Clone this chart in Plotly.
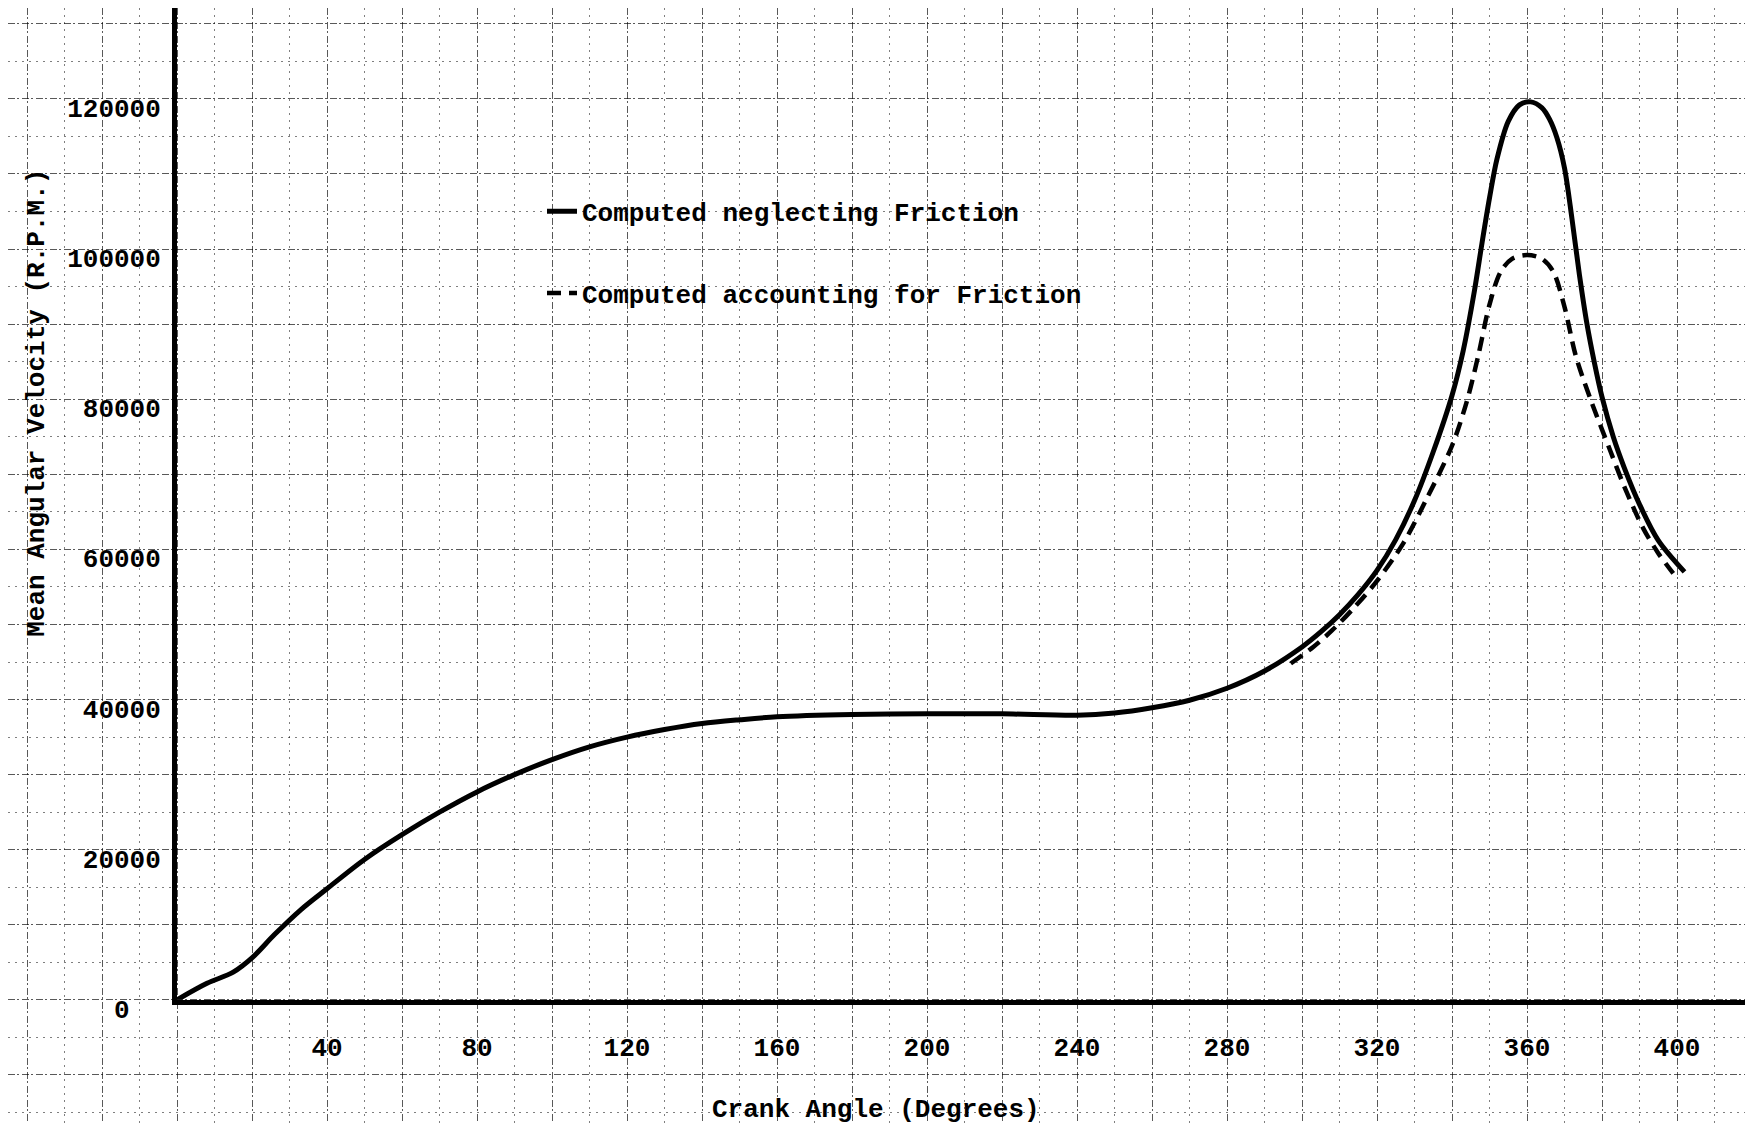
import plotly.graph_objects as go

# ---------------- data ----------------
angle_solid = [0, 8, 15, 20, 26, 33, 40, 50, 60, 70, 80, 90, 100, 110, 120, 130, 140, 150,
               160, 180, 200, 220, 240, 250, 260, 270, 280, 290, 300, 305, 310, 315, 320,
               325, 330, 335, 340, 343, 346, 348, 350, 352, 355, 358, 361, 364, 366, 368,
               370, 372, 374, 376, 378, 380, 383, 386, 390, 395, 402]
rpm_solid = [0, 2200, 3700, 5600, 8700, 12000, 14800, 18700, 22000, 25000, 27700, 30000,
             32000, 33700, 35000, 36000, 36800, 37300, 37700, 38000, 38100, 38100, 37900,
             38200, 38900, 39900, 41500, 43800, 47000, 49000, 51300, 54000, 57200, 61300,
             66500, 73000, 80500, 86500, 94500, 100800, 106800, 112000, 117000, 119200,
             119600, 118800, 117300, 114800, 110800, 104000, 96500, 90000, 84800, 80300,
             75000, 70800, 66000, 61200, 57000]

angle_dashed = [297, 303, 308, 314, 320, 327, 333, 340, 344, 347, 350, 353, 356, 360, 364,
                367, 370, 373, 377, 382, 386, 391, 395, 399]
rpm_dashed = [44800, 47000, 49200, 52300, 55800, 60800, 66500, 73800, 79800, 85800, 92600,
              97000, 98700, 99200, 98700, 97000, 92300, 85800, 79900, 73400, 68300, 62800,
              59500, 56800]

x_ticks = [40, 80, 120, 160, 200, 240, 280, 320, 360, 400]
y_ticks = [0, 20000, 40000, 60000, 80000, 100000, 120000]
y_tick_text = ["0\u00a0\u00a0", "20000", "40000", "60000", "80000", "100000", "120000"]

name_solid = "Computed neglecting Friction"
name_dashed = "Computed accounting for Friction"
x_title = "Crank Angle (Degrees)"
y_title = "Mean Angular Velocity (R.P.M.)"

# ---------------- layout geometry ----------------
W, H = 1753, 1141
X0PX, Y0PX = 169, 1015          # pixel position of the origin
PX_PER_DEG = 3.75
PX_PER_UNIT = 922 / 120000

x_max = (W - X0PX) / PX_PER_DEG
y_max = Y0PX / PX_PER_UNIT
x_min_grid = -X0PX / PX_PER_DEG
y_min_grid = -(H - Y0PX) / PX_PER_UNIT

FONT = "Liberation Mono"
font_main = dict(family=FONT, size=26, color="black", weight="bold")

fig = go.Figure()

# graph-paper subplot (grid only)
fig.add_trace(go.Scatter(x=[None], y=[None], xaxis="x", yaxis="y",
                         showlegend=False, hoverinfo="skip"))

# data curves
fig.add_trace(go.Scatter(
    x=angle_solid, y=rpm_solid, xaxis="x2", yaxis="y2", mode="lines",
    name=name_solid, legendgroup="a",
    line=dict(color="black", width=5, shape="spline", smoothing=0.9)))
fig.add_trace(go.Scatter(
    x=angle_dashed, y=rpm_dashed, xaxis="x2", yaxis="y2", mode="lines",
    name=name_dashed, legendgroup="b",
    line=dict(color="black", width=4.5, dash="14px,8px", shape="spline", smoothing=0.9)))

grid_major = "rgba(0,0,0,0.65)"
grid_minor = "rgba(0,0,0,0.5)"
major_dash = "7px,2px,2px,3px"
minor_dash = "2px,5px"

fig.update_layout(
    width=W, height=H,
    margin=dict(l=0, r=0, t=0, b=0),
    paper_bgcolor="white", plot_bgcolor="rgba(0,0,0,0)",
    xaxis=dict(domain=[0, 1], range=[x_min_grid, x_max], anchor="y",
               tick0=0, dtick=20, showgrid=True, gridcolor=grid_major, gridwidth=1.3,
               griddash=major_dash,
               minor=dict(dtick=10, showgrid=True, gridcolor=grid_minor, gridwidth=1.2,
                          griddash=minor_dash),
               showticklabels=False, ticks="", zeroline=False, showline=False),
    yaxis=dict(domain=[0, 1], range=[y_min_grid, y_max], anchor="x",
               tick0=0, dtick=10000, showgrid=True, gridcolor=grid_major, gridwidth=1.3,
               griddash=major_dash,
               minor=dict(dtick=5000, showgrid=True, gridcolor=grid_minor, gridwidth=1.2,
                          griddash=minor_dash),
               showticklabels=False, ticks="", zeroline=False, showline=False),
    xaxis2=dict(domain=[X0PX / W, 1], range=[0, x_max], anchor="y2",
                showgrid=False, zeroline=False, showline=True, linecolor="black",
                linewidth=5, tickvals=x_ticks, ticks="", tickfont=font_main,
                ticklabelstandoff=20),
    yaxis2=dict(domain=[(H - Y0PX) / H, 1], range=[0, y_max], anchor="x2",
                showgrid=False, zeroline=False, showline=True, linecolor="black",
                linewidth=5, tickvals=y_ticks, ticktext=y_tick_text, ticks="",
                tickfont=font_main, ticklabelstandoff=6, ticklabelshift=9),
    legend=dict(x=(582 - 48) / W, y=1 - 184 / H, xanchor="left", yanchor="top",
                bgcolor="rgba(0,0,0,0)", font=font_main, tracegroupgap=45,
                itemwidth=30),
    annotations=[
        dict(text=x_title, xref="paper", yref="paper", x=868 / W, y=1 - 1128 / H,
             xanchor="center", yanchor="middle", showarrow=False, font=font_main),
        dict(text=y_title, xref="paper", yref="paper", x=29 / W, y=1 - 404 / H,
             xanchor="center", yanchor="middle", showarrow=False, textangle=-90,
             font=font_main),
    ],
)

fig.write_html("out.html")
